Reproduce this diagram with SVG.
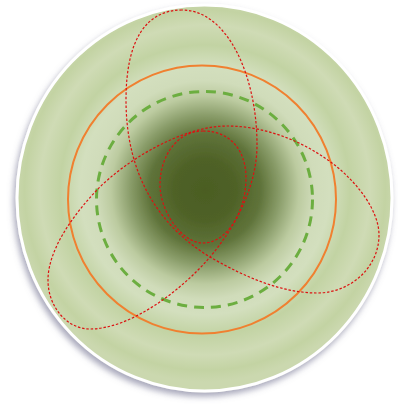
<svg xmlns="http://www.w3.org/2000/svg" width="398" height="405" viewBox="0 0 398 405">
  <defs>
    <radialGradient id="discFill" gradientUnits="userSpaceOnUse" cx="205" cy="190" r="192">
      <stop offset="0" stop-color="#4b5d23"/>
      <stop offset="0.16" stop-color="#4f6227"/>
      <stop offset="0.29" stop-color="#5f733a"/>
      <stop offset="0.39" stop-color="#8a9d6a"/>
      <stop offset="0.49" stop-color="#bccba0"/>
      <stop offset="0.57" stop-color="#d0dcba"/>
      <stop offset="0.65" stop-color="#d3dfbe"/>
      <stop offset="0.755" stop-color="#c2d3a3"/>
      <stop offset="0.86" stop-color="#cfdbb5"/>
      <stop offset="0.94" stop-color="#c3d3a3"/>
      <stop offset="1" stop-color="#cbd8af"/>
    </radialGradient>
    <filter id="shadow" x="-10%" y="-10%" width="120%" height="125%">
      <feDropShadow dx="-2" dy="4" stdDeviation="3" flood-color="#6c6c8c" flood-opacity="0.6"/>
    </filter>
  </defs>
  <style>
    .red { fill: none; stroke: #dd1111; stroke-width: 1.2; stroke-dasharray: 2.5 1.8; }
  </style>
  <rect width="398" height="405" fill="#ffffff"/>
  <g id="disc">
    <ellipse cx="204.5" cy="198" rx="187.5" ry="193" fill="url(#discFill)" stroke="#ffffff" stroke-width="3" filter="url(#shadow)"/>
  </g>
  <g id="orange-circle">
    <circle cx="202" cy="199.5" r="134" fill="none" stroke="#f08030" stroke-width="2"/>
  </g>
  <g id="green-circle">
    <circle cx="204.5" cy="199.5" r="108" fill="none" stroke="#6cae40" stroke-width="3" stroke-dasharray="10 7"/>
  </g>
  <g id="connectors">
    <path id="trefoil" class="red" d="M182,10 C146,10 126,40 126,100 C126,175 159,226 210,257 C236,272 277,293 317,293 C351,293 379,267 379,235 C379,210 356,181 332,163 C300,139 262,126 227,126 C182,126 124.6,161.2 97,190 C72.9,215.2 48,250 48,280 C48,307 67,329 90,329 C130,329 180.8,291.2 210,257 C236,226.6 257,185 257,145 C257,75 227,10 182,10 Z"/>
    <path id="inner-loop" class="red" d="M203,131 C230,131 246,150 246,178 C246,210 228,243 203,243 C181,243 160,210 160,185 C160,155 178,131 203,131 Z"/>
  </g>
</svg>
